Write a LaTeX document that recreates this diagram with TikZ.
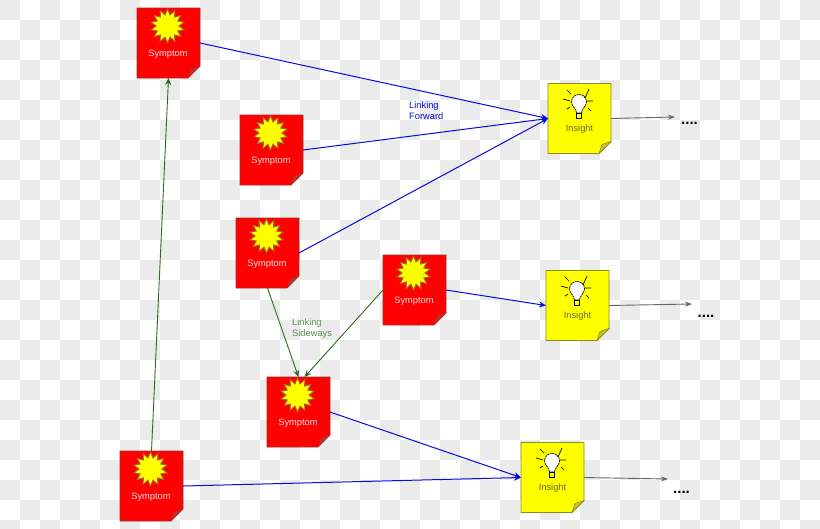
\documentclass[tikz,border=0pt]{standalone}
\usepackage{fontspec}
\setmainfont{Liberation Sans}
\usetikzlibrary{shapes.geometric,arrows.meta,calc}
\definecolor{tilegrey}{HTML}{EBEBEB}
\definecolor{notered}{HTML}{FF0000}
\definecolor{redborder}{HTML}{A03030}
\definecolor{redfold}{HTML}{B83030}
\definecolor{noteyellow}{HTML}{FFFF00}
\definecolor{yellowborder}{HTML}{8C8A20}
\definecolor{yellowfold}{HTML}{C8C030}
\definecolor{burstedge}{HTML}{A07020}
\definecolor{forwardblue}{HTML}{0A0ADC}
\definecolor{sidegreen}{HTML}{2F6B22}
\definecolor{nextgrey}{HTML}{666666}
\definecolor{insighttext}{HTML}{6A6A20}
\definecolor{symptomtext}{HTML}{FFE0E0}
\tikzset{
  x=1pt,y=-1pt,
  notebox/.style={rectangle,minimum width=63pt,minimum height=70pt,inner sep=0pt,outer sep=0pt},
  burst/.style={star,star points=14,star point ratio=1.5,minimum size=34pt,inner sep=0pt,fill=noteyellow,draw=burstedge,line width=0.9pt},
  notetext/.style={font=\fontsize{9.3}{10}\selectfont,inner sep=0pt},
  linklabel/.style={font=\fontsize{9.3}{11}\selectfont,align=left,inner sep=0pt,anchor=north west},
  forward/.style={draw=forwardblue,line width=1pt,-{Stealth[length=7pt,width=6pt]}},
  sideways/.style={draw=sidegreen,line width=0.9pt,-{Stealth[length=7pt,width=6pt]}},
  onward/.style={draw=nextgrey,line width=0.9pt,-{Stealth[length=7pt,width=5pt]}},
  dots/.style={font=\bfseries\fontsize{15}{15}\selectfont,inner sep=0pt,text=black,anchor=base},
}
% Sticky-note outline with its turned-up corner
\newcommand{\stickynote}[4]{%
  \node[notebox] (#1) at (#2) {};
  \path[fill=#3,draw=#4,line width=0.9pt,line join=round]
    (#1.north west) -- (#1.north east) -- ([yshift=12pt]#1.south east)
    -- ([xshift=-12pt]#1.south east) -- (#1.south west) -- cycle;
}
\newcommand{\symptomnote}[2]{%
  \stickynote{#1}{#2}{notered}{redborder}
  \fill[redfold] ([yshift=12pt]#1.south east) -- ([xshift=-12pt]#1.south east)
    -- ([xshift=-9pt,yshift=9pt]#1.south east) -- cycle;
  \node[burst] (#1-burst) at ([xshift=-1pt,yshift=17pt]#1.center) {};
  \node[notetext,text=symptomtext] (#1-text) at ([xshift=-0.5pt,yshift=-11.5pt]#1.center) {Symptom};
}
\newcommand{\insightnote}[2]{%
  \stickynote{#1}{#2}{noteyellow}{yellowborder}
  \fill[yellowfold,draw=yellowborder,line width=0.5pt] ([yshift=12pt]#1.south east) -- ([xshift=-12pt]#1.south east)
    -- ([xshift=-9pt,yshift=9pt]#1.south east) -- cycle;
  \node[notetext,text=insighttext] (#1-text) at ([xshift=0pt,yshift=-11pt]#1.center) {Insight};
  % Light bulb with its rays
  \begin{scope}[shift={([xshift=-0.5pt,yshift=16.5pt]#1.center)}]
    \path[fill=white,draw=black,line width=0.7pt,dash pattern=on 2pt off 0.7pt]
      (-2.5,11) .. controls (-2.5,7) and (-7.5,4) .. (-7.5,0) .. controls (-7.5,-10) and (7.5,-10) .. (7.5,0)
      .. controls (7.5,4) and (2.5,7) .. (2.5,11) -- cycle;
    \draw[black,line width=0.7pt] (-2.5,11) rectangle (2.5,16.5);
    \draw[black,line width=0.7pt]
      (-12,-12) -- (-8,-8) (-16,-3) -- (-9,-1) (-12,7) -- (-9,5)
      (10,-13) -- (6,-4) (8,-1) -- (14,-1) (9,6) -- (12,9);
  \end{scope}
}
\begin{document}
\begin{tikzpicture}
\useasboundingbox (0,0) rectangle (820,528);
% Tiled backdrop
\fill[white] (0,0) rectangle (820,528);
\foreach \i in {0,...,40}{
  \foreach \j in {0,...,26}{
    \pgfmathparse{int(mod(\i+\j,2))}
    \ifnum\pgfmathresult=0
      \fill[tilegrey] (20*\i,20*\j) rectangle (20*\i+20,20*\j+20);
    \fi
  }
}
% Notes
\symptomnote{sa}{168.5,43}
\symptomnote{sb}{271.5,150}
\symptomnote{sc}{267.5,253}
\symptomnote{sd}{414.5,290}
\symptomnote{se}{298.5,412}
\symptomnote{sf}{151.5,486}
\insightnote{ia}{579.5,118.5}
\insightnote{ib}{577.5,305.5}
\insightnote{ic}{552.5,477.5}
% Free ends of the onward arrows
\coordinate (oa) at (675,117);
\coordinate (ob) at (692,304);
\coordinate (oc) at (668,479);
% Forward links
\draw[forward] (sa.east) -- (ia.west);
\draw[forward] (sb.east) -- (ia.west);
\draw[forward] (sc.east) -- (ia.west);
\draw[forward] (sd.east) -- (ib.west);
\draw[forward] (se.east) -- (ic.west);
\draw[forward] (sf.east) -- (ic.west);
% Sideways links
\draw[sideways] (sf.north) -- (sa.south);
\draw[sideways] (sc.south) -- (se.north);
\draw[sideways] (sd.west) -- ([xshift=6pt]se.north);
% Onward arrows
\draw[onward] (ia.east) -- (oa);
\draw[onward] (ib.east) -- (ob);
\draw[onward] (ic.east) -- (oc);
% Labels
\node[linklabel,text=forwardblue] (lf) at (409,102) {Linking\\Forward};
\node[linklabel,text=sidegreen!80!white] (ls) at (292,318.5) {Linking\\Sideways};
\node[dots] (da) at (689.5,124.5) {....};
\node[dots] (db) at (706,317.5) {....};
\node[dots] (dc) at (681.5,493) {....};
\end{tikzpicture}
\end{document}
